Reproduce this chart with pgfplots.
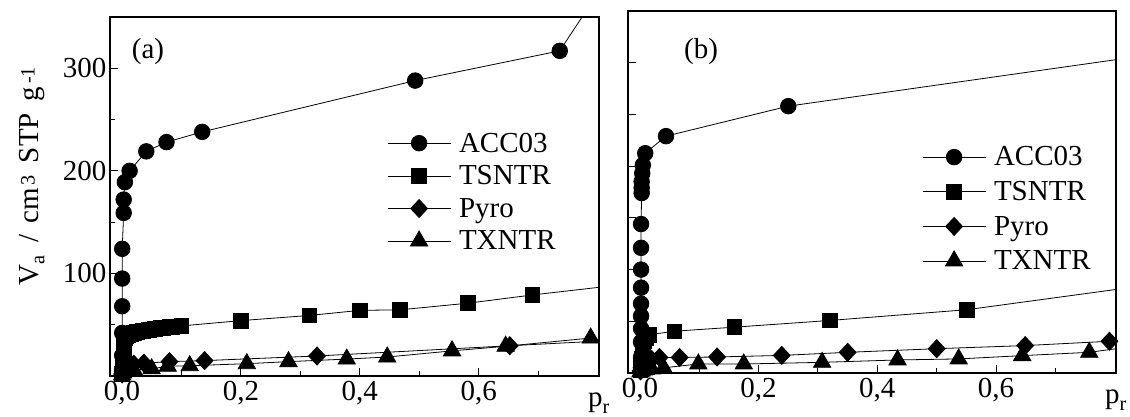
\documentclass[border=0pt]{standalone}
\usepackage{fontspec}
\setmainfont{Liberation Serif}
\newfontfamily\bigfam{Liberation Serif}[Scale=2.9]
\usepackage{pgfplots}
\pgfplotsset{compat=1.18}
\newcommand{\bigf}{\fontsize{10}{12}\bigfam}
\pgfplotsset{
  myaxis/.style={
    scale only axis,
    xmin=-0.02, xmax=0.802,
    ymin=0, ymax=350,
    font=\bigf,
    tick label style={font=\bigf},
    axis line style={line width=1.3pt},
    every tick/.style={line width=1pt, black},
    tick align=inside,
    major tick length=8pt,
    minor tick length=5pt,
    xtick pos=bottom, ytick pos=left,
    xtick={0,0.2,0.4,0.6},
    xticklabels={{0,0},{0,2},{0,4},{0,6}},
    minor xtick={0.1,0.3,0.5,0.7},
    xticklabel style={yshift=-2pt},
    legend cell align=left,
    legend image code/.code={\draw[mark repeat=2,mark phase=2] plot coordinates {(0pt,0pt)(31.5pt,0pt)(63pt,0pt)};},
    legend style={draw=none, fill=none, inner sep=0pt, column sep=8pt, row sep=12pt, nodes={inner sep=0pt}, font=\bigf},
    xlabel={p\textsubscript{r}},
    xlabel style={at={(rel axis cs:1,0)}, anchor=base, yshift=-31pt},
  },
  ser/.style={black, line width=0.8pt},
  mc/.style={ser, mark=*, mark size=7.8pt, mark options={solid, fill=black}},
  ms/.style={ser, mark=square*, mark size=7.3pt, mark options={solid, fill=black}},
  md/.style={ser, mark=diamond*, mark size=9pt, mark options={solid, fill=black, xscale=1.25}},
  mt/.style={ser, mark=triangle*, mark size=10pt, mark options={solid, fill=black}},
}
\begin{document}
\begin{tikzpicture}
\useasboundingbox (0,0) rectangle (1130pt,417pt);
% ---------------- panel (a) ----------------
\begin{axis}[myaxis,
  at={(110pt,41pt)}, anchor=south west, width=489pt, height=359pt,
  ytick={100,200,300}, yticklabels={100,200,300}, minor ytick={50,150,250},
  ylabel={V\textsubscript{a}\hspace{0.45em}/\hspace{0.35em}cm\textsuperscript{\hspace{0.15em}3}\hspace{0.4em}STP\hspace{0.4em}g\textsuperscript{\hspace{0.15em}-1}},
  ylabel style={at={(axis description cs:-0.16,0.557)}, anchor=center},
  legend style={at={(rel axis cs:0.5665,0.678)}, anchor=north west},
]
\addplot[mc] coordinates {(0.0005,5)(0.0005,20)(0.0005,42)(0.0005,68)(0.0005,95)(0.0005,124)(0.003,159)(0.003,172)(0.005,189)(0.013,200)(0.041,219)(0.075,228)(0.135,238)(0.493,288)(0.736,317)(0.85,417)};
\addlegendentry{ACC03}
\addplot[ms] coordinates {(0.0005,2)(0.001,6)(0.0015,10)(0.002,15)(0.0025,20)(0.003,25)(0.0035,30)(0.004,34)(0.005,37)(0.007,39)(0.01,40)(0.015,41)(0.02,42)(0.025,43)(0.03,43.5)(0.035,44)(0.04,44.5)(0.045,45)(0.05,45.5)(0.055,46)(0.06,46.3)(0.065,46.6)(0.07,47)(0.075,47.3)(0.08,47.6)(0.085,48)(0.09,48.2)(0.095,48.5)(0.1,48.8)(0.2,54)(0.315,59)(0.40,64)(0.467,64.5)(0.582,71)(0.69,79)(0.9,93)};
\addlegendentry{TSNTR}
\addplot[md] coordinates {(0.0005,2)(0.002,5)(0.005,8)(0.01,10)(0.02,11.5)(0.037,12.5)(0.08,14)(0.139,15)(0.328,19.5)(0.652,29.5)(0.9,37)};
\addlegendentry{Pyro}
\addplot[mt] coordinates {(0.0005,1)(0.002,3)(0.005,5)(0.02,6)(0.05,7)(0.077,9.5)(0.114,10)(0.21,12)(0.28,14)(0.378,16.5)(0.446,18.5)(0.555,24.5)(0.645,29)(0.788,37)};
\addlegendentry{TXNTR}
\node[font=\bigf] at (rel axis cs:0.0777,0.9025) {(a)};
\end{axis}
% ---------------- panel (b) ----------------
\begin{axis}[myaxis,
  at={(628pt,44pt)}, anchor=south west, width=488pt, height=362pt,
  ytick={0,50,...,350}, yticklabels={},
  legend style={at={(rel axis cs:0.6025,0.6257)}, anchor=north west, row sep=14pt},
]
\addplot[mc] coordinates {(0.002,5)(0.002,15)(0.002,30)(0.002,43)(0.002,55)(0.002,67)(0.002,82.5)(0.002,100)(0.002,121)(0.002,144)(0.003,174)(0.003,179)(0.003,185)(0.004,193)(0.005,201)(0.009,212.5)(0.044,229)(0.25,258)(0.95,315)};
\addlegendentry{ACC03}
\addplot[ms] coordinates {(0.001,3)(0.002,8)(0.003,14)(0.004,20)(0.005,26)(0.007,31)(0.01,34)(0.016,37)(0.058,40.4)(0.159,44.3)(0.32,50.8)(0.551,61.2)(0.9,88.4)};
\addlegendentry{TSNTR}
\addplot[md] coordinates {(0.001,2)(0.003,5)(0.006,8)(0.01,10)(0.02,13)(0.033,15)(0.067,15)(0.13,15.5)(0.239,17)(0.35,20)(0.50,23.5)(0.649,26.5)(0.791,30.7)};
\addlegendentry{Pyro}
\addplot[mt] coordinates {(0.001,1)(0.003,2)(0.006,3)(0.01,3.5)(0.02,4)(0.04,5)(0.0985,8.7)(0.175,8.7)(0.307,10.3)(0.434,12.6)(0.537,13.6)(0.644,16.8)(0.757,20)(0.9,31)};
\addlegendentry{TXNTR}
\node[font=\bigf] at (rel axis cs:0.1496,0.887) {(b)};
\end{axis}
\end{tikzpicture}
\end{document}
